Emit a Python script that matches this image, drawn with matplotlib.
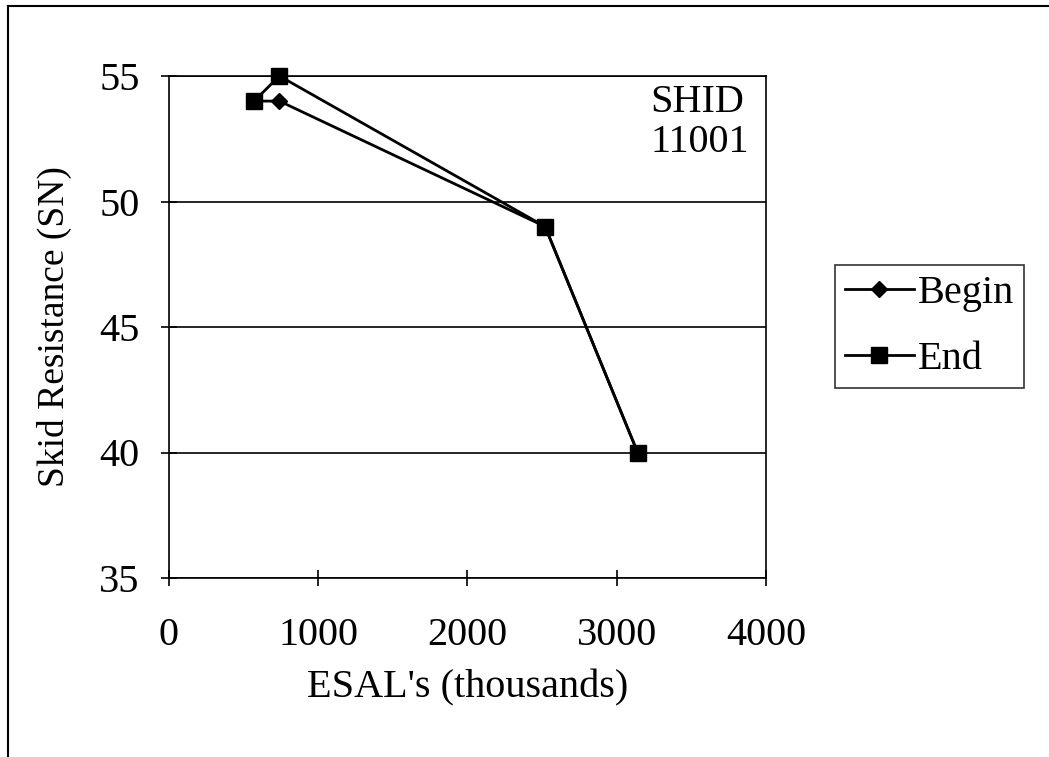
import matplotlib.pyplot as plt
from matplotlib.lines import Line2D

# data
esal_begin = [570, 740, 2520, 3140]
sn_begin = [54, 54, 49, 40]
esal_end = [570, 740, 2520, 3140]
sn_end = [54, 55, 49, 40]

x_ticks = [0, 1000, 2000, 3000, 4000]
y_ticks = [35, 40, 45, 50, 55]

plt.rcParams['font.family'] = ['Liberation Serif', 'DejaVu Serif']

fig = plt.figure(figsize=(10.49, 7.57), dpi=100)
ax = fig.add_axes([169 / 1049, 1 - 578 / 757, (766 - 169) / 1049, (578 - 76) / 757])

ax.plot(esal_begin, sn_begin, color='black', lw=2, marker='D', ms=8, clip_on=False, zorder=3)
ax.plot(esal_end, sn_end, color='black', lw=2, marker='s', ms=11, clip_on=False, zorder=4)

ax.set_xlim(0, 4000)
ax.set_ylim(35, 55)
ax.set_xticks(x_ticks)
ax.set_yticks(y_ticks)
ax.yaxis.grid(True, color='black', lw=1.2)
ax.tick_params(direction='inout', length=12, width=1.2, labelsize=29)
ax.tick_params(axis='y', pad=15)
ax.tick_params(axis='x', pad=22)
for s in ax.spines.values():
    s.set_linewidth(1.2)

ax.set_xlabel("ESAL's (thousands)", fontsize=29, labelpad=11)
ax.set_ylabel('Skid Resistance (SN)', fontsize=27, labelpad=20)

fig.text(650 / 1049, 1 - 102 / 757, 'SHID', fontsize=29, va='center', ha='left')
fig.text(650 / 1049, 1 - 143 / 757, '11001', fontsize=29, va='center', ha='left')

handles = [
    Line2D([], [], color='black', lw=2, marker='D', ms=8),
    Line2D([], [], color='black', lw=2, marker='s', ms=11),
]
leg = fig.legend(handles, ['Begin', 'End'], loc='upper left',
                 bbox_to_anchor=(835 / 1049, 1 - 265 / 757), fontsize=29,
                 frameon=True, fancybox=False, edgecolor='black',
                 handlelength=1.7, handletextpad=0.1, borderpad=0.25,
                 labelspacing=0.7, borderaxespad=0)
leg.get_frame().set_linewidth(1.2)

# outer border (top and left)
fig.add_artist(Line2D([8 / 1049, 8 / 1049], [0, 1 - 6 / 757], color='black', lw=1.5))
fig.add_artist(Line2D([8 / 1049, 1], [1 - 6 / 757, 1 - 6 / 757], color='black', lw=1.5))

fig.savefig('out.png', dpi=100)
